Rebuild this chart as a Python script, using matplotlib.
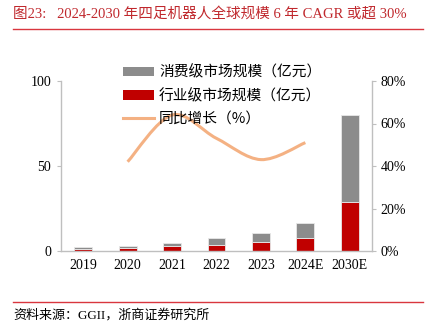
import numpy as np
import matplotlib
matplotlib.use('Agg')
import matplotlib.pyplot as plt
from matplotlib.path import Path
from matplotlib.patches import PathPatch, Patch
from matplotlib.lines import Line2D
from matplotlib.ticker import PercentFormatter

plt.rcParams['font.family'] = ['Liberation Serif', 'Noto Sans CJK SC', 'DejaVu Sans']

# 数据
years = ['2019', '2020', '2021', '2022', '2023', '2024E', '2030E']
consumer = [0.8, 1.1, 1.8, 3.9, 5.1, 8.7, 50.8]     # 消费级 (亿元)
industry = [1.4, 2.0, 3.1, 3.7, 5.5, 7.6, 29.0]     # 行业级 (亿元)
growth_years = ['2020', '2021', '2022', '2023', '2024E']
growth = [42, 64, 53, 43, 51]                        # 同比增长 (%)

c_gray = '#8C8C8C'
c_red = '#C00000'
c_line = '#F4B183'
c_axis = '#BFBFBF'
c_title = '#C0282D'

fig = plt.figure(figsize=(4.29, 3.26), dpi=100)
ax = fig.add_axes([61/429, 75/326, 311/429, 170/326])
ax2 = ax.twinx()

x = np.arange(len(years))
ax.bar(x, industry, width=0.4, color=c_red, edgecolor='#E8E8E8', linewidth=0.6, zorder=2)
ax.bar(x, consumer, width=0.4, bottom=industry, color=c_gray, edgecolor='#E8E8E8', linewidth=0.6, zorder=2)

# 平滑折线 (类似 Excel 平滑线)
gx = np.array([years.index(y) for y in growth_years], dtype=float)
gy = np.array(growth, dtype=float) / 100
pts = np.column_stack([gx, gy])
verts = [pts[0]]
codes = [Path.MOVETO]
n = len(pts)
for i in range(n - 1):
    p_prev = pts[i - 1] if i > 0 else pts[i]
    p_next2 = pts[i + 2] if i + 2 < n else pts[i + 1]
    c1 = pts[i] + (pts[i + 1] - p_prev) / 6
    c2 = pts[i + 1] - (p_next2 - pts[i]) / 6
    verts += [c1, c2, pts[i + 1]]
    codes += [Path.CURVE4] * 3
ax2.add_patch(PathPatch(Path(verts, codes), facecolor='none', edgecolor=c_line,
                        linewidth=2.2, capstyle='butt', zorder=3))

ax.set_xlim(-0.5, len(years) - 0.5)
ax.set_ylim(0, 100)
ax.set_yticks([0, 50, 100])
ax2.set_ylim(0, 0.8)
ax2.set_yticks([0, 0.2, 0.4, 0.6, 0.8])
ax2.yaxis.set_major_formatter(PercentFormatter(1.0, decimals=0))
ax.set_xticks(x)
ax.set_xticklabels(years)

for a in (ax, ax2):
    a.spines['top'].set_visible(False)
    for s in ('left', 'right', 'bottom'):
        a.spines[s].set_color(c_axis)
        a.spines[s].set_linewidth(1.0)
ax.spines['right'].set_visible(False)
ax2.spines['left'].set_visible(False)
ax2.spines['bottom'].set_visible(False)
ax.tick_params(axis='y', length=3, color=c_axis, labelsize=10, pad=4)
ax.tick_params(axis='x', length=0, labelsize=10, pad=6)
ax2.tick_params(axis='y', length=3, color=c_axis, labelsize=10, pad=3)

handles = [Patch(facecolor=c_gray, edgecolor='none'),
           Patch(facecolor=c_red, edgecolor='none'),
           Line2D([], [], color=c_line, linewidth=2.2)]
labels = ['消费级市场规模（亿元）', '行业级市场规模（亿元）', '同比增长（%）']
fig.legend(handles, labels, loc='upper left', bbox_to_anchor=(123/429, 1 - 65/326),
           frameon=False, handlelength=2.1, handleheight=0.6,
           handletextpad=0.35, labelspacing=0.62, borderpad=0, borderaxespad=0,
           prop={'family': ['Noto Sans CJK SC'], 'size': 10.6})

# 标题与来源
fig.text(13/429, 1 - 14/326, '图23:   2024-2030 年四足机器人全球规模 6 年 CAGR 或超 30%',
         color=c_title, fontsize=10.5, va='center', ha='left',
         family=['Liberation Serif', 'Noto Sans CJK SC'])
fig.add_artist(Line2D([13/429, 423/429], [1 - 29/326, 1 - 29/326], color='#D9363E', linewidth=1.0))
fig.add_artist(Line2D([13/429, 423/429], [1 - 302/326, 1 - 302/326], color='#D9363E', linewidth=1.0))
fig.text(13/429, 1 - 315/326, '资料来源：GGII，浙商证券研究所', color='black', fontsize=9.4,
         va='center', ha='left', family=['Liberation Serif', 'Noto Sans CJK SC'])

fig.savefig('out.png', dpi=100)
